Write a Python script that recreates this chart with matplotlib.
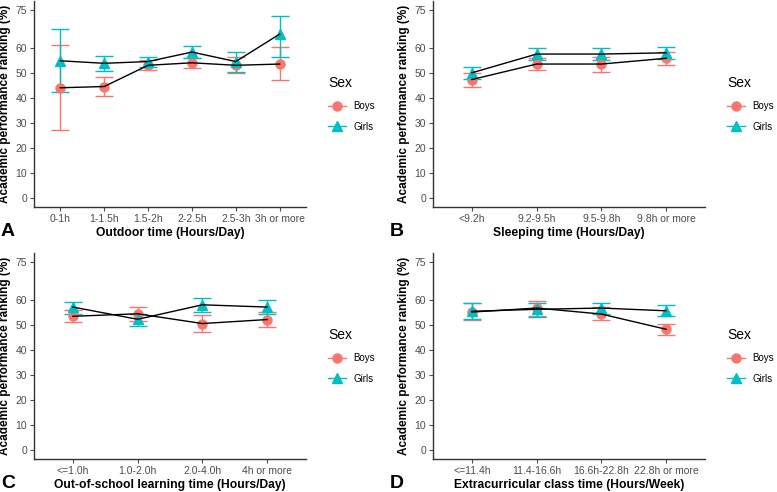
import matplotlib
matplotlib.use('Agg')
import matplotlib.pyplot as plt
from matplotlib.lines import Line2D

plt.rcParams['font.family'] = ['Liberation Sans', 'DejaVu Sans']

BOYS_COLOR = '#F8766D'
GIRLS_COLOR = '#00BFC4'

# panel A - outdoor time
cats_a = ['0-1h', '1-1.5h', '1.5-2h', '2-2.5h', '2.5-3h', '3h or more']
boys_a = [44.0, 44.5, 53.0, 54.0, 53.0, 53.5]
boys_a_lo = [27.0, 40.7, 51.0, 52.0, 50.0, 47.0]
boys_a_hi = [61.0, 48.3, 55.0, 56.0, 56.5, 60.2]
girls_a = [54.8, 53.8, 54.5, 58.3, 54.5, 65.5]
girls_a_lo = [42.2, 50.8, 52.5, 56.0, 50.5, 56.3]
girls_a_hi = [67.5, 56.8, 56.5, 60.8, 58.3, 72.8]

# panel B - sleeping time
cats_b = ['<9.2h', '9.2-9.5h', '9.5-9.8h', '9.8h or more']
boys_b = [47.3, 53.5, 53.5, 55.8]
boys_b_lo = [44.5, 51.0, 50.5, 53.3]
boys_b_hi = [50.0, 56.0, 56.5, 58.3]
girls_b = [50.0, 57.5, 57.5, 58.0]
girls_b_lo = [47.5, 55.0, 55.0, 55.5]
girls_b_hi = [52.5, 60.0, 60.0, 60.3]

# panel C - out-of-school learning time
cats_c = ['<=1.0h', '1.0-2.0h', '2.0-4.0h', '4h or more']
boys_c = [53.4, 54.4, 50.5, 52.1]
boys_c_lo = [51.1, 51.6, 47.3, 49.1]
boys_c_hi = [55.8, 57.1, 53.8, 55.1]
girls_c = [57.1, 52.2, 58.0, 57.1]
girls_c_lo = [54.2, 49.4, 55.1, 54.2]
girls_c_hi = [59.1, 54.4, 60.8, 59.8]

# panel D - extracurricular class time
cats_d = ['<=11.4h', '11.4-16.6h', '16.6h-22.8h', '22.8h or more']
boys_d = [55.1, 56.7, 54.3, 48.2]
boys_d_lo = [51.8, 53.5, 51.8, 45.8]
boys_d_hi = [58.6, 59.4, 57.1, 50.5]
girls_d = [55.4, 56.2, 56.7, 55.6]
girls_d_lo = [52.3, 53.3, 54.4, 53.5]
girls_d_hi = [58.8, 58.8, 58.8, 57.8]

yticks = [0, 10, 20, 30, 40, 50, 60, 75]

W, H = 777, 492
fig = plt.figure(figsize=(W / 100, H / 100), dpi=100)


def px_axes(left, top, right, bottom):
    return fig.add_axes([left / W, 1 - bottom / H, (right - left) / W, (bottom - top) / H])


def draw_panel(ax, cats, boys, boys_lo, boys_hi, girls, girls_lo, girls_hi, xlabel):
    x = list(range(len(cats)))
    for vals, lo, hi, col, mk, ms in [(boys, boys_lo, boys_hi, BOYS_COLOR, 'o', 6.5),
                                      (girls, girls_lo, girls_hi, GIRLS_COLOR, '^', 7.5)]:
        yerr = [[v - l for v, l in zip(vals, lo)], [h - v for v, h in zip(vals, hi)]]
        ax.errorbar(x, vals, yerr=yerr, fmt='none', ecolor=col, elinewidth=1,
                    capsize=6.5, capthick=1, zorder=2)
        ax.plot(x, vals, linestyle='none', marker=mk, color=col, markersize=ms, zorder=3)
        ax.plot(x, vals, color='black', linewidth=1, zorder=4)
    ax.set_xlim(-0.6, len(cats) - 1 + 0.6)
    ax.set_ylim(-3.75, 78.75)
    ax.set_xticks(x)
    ax.set_xticklabels(cats)
    ax.set_yticks(yticks)
    for s in ['top', 'right']:
        ax.spines[s].set_visible(False)
    for s in ['left', 'bottom']:
        ax.spines[s].set_color('#333333')
        ax.spines[s].set_linewidth(1)
    ax.tick_params(axis='both', labelsize=7.5, colors='#4D4D4D', length=3, width=0.8, pad=2)
    ax.set_xlabel(xlabel, fontsize=8.7, fontweight='bold', labelpad=2)
    ax.set_ylabel('Academic performance ranking (%)', fontsize=8.5, fontweight='bold', labelpad=3)
    handles = [Line2D([], [], color=BOYS_COLOR, marker='o', markersize=6.5, linewidth=1),
               Line2D([], [], color=GIRLS_COLOR, marker='^', markersize=7.5, linewidth=1)]
    leg = ax.legend(handles, ['Boys', 'Girls'], title='Sex', frameon=False, fontsize=7,
                    title_fontsize=10, loc='center left', bbox_to_anchor=(1.05, 0.5),
                    handlelength=1.8, labelspacing=1.1)
    leg._legend_box.align = 'left'
    return ax


ax = px_axes(34, 1, 306, 207)
draw_panel(ax, cats_a, boys_a, boys_a_lo, boys_a_hi, girls_a, girls_a_lo, girls_a_hi,
           'Outdoor time (Hours/Day)')
ax = px_axes(433, 1, 705, 207)
draw_panel(ax, cats_b, boys_b, boys_b_lo, boys_b_hi, girls_b, girls_b_lo, girls_b_hi,
           'Sleeping time (Hours/Day)')
ax = px_axes(34, 253, 306, 459)
draw_panel(ax, cats_c, boys_c, boys_c_lo, boys_c_hi, girls_c, girls_c_lo, girls_c_hi,
           'Out-of-school learning time (Hours/Day)')
ax = px_axes(433, 253, 705, 459)
draw_panel(ax, cats_d, boys_d, boys_d_lo, boys_d_hi, girls_d, girls_d_lo, girls_d_hi,
           'Extracurricular class time (Hours/Week)')

for letter, lx, ly in [('A', 1, 231), ('B', 390, 231), ('C', 1, 484), ('D', 390, 484)]:
    fig.text(lx / W, 1 - ly / H, letter, fontsize=14, fontweight='bold', va='center', ha='left')

fig.savefig('out.png', dpi=100)
